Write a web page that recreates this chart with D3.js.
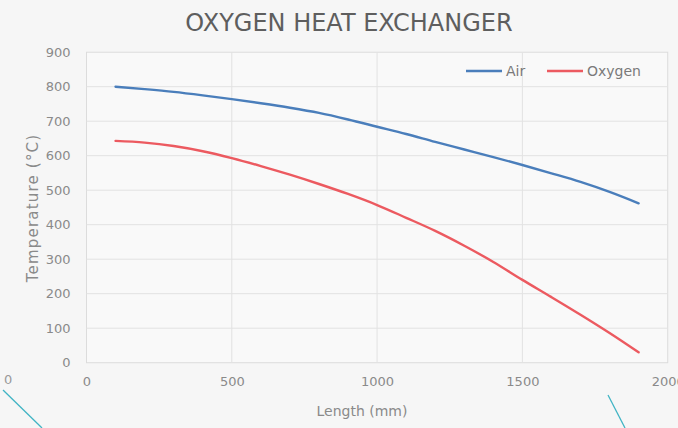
<!DOCTYPE html>
<html><head><meta charset="utf-8">
<script src="https://cdn.jsdelivr.net/npm/d3@7"></script>
<style>
html,body{margin:0;padding:0;background:#f6f6f6;}
svg{display:block;font-family:"DejaVu Sans",sans-serif;}
</style></head>
<body><svg id="c" width="678" height="428"></svg>
<script>
const lengths = [100,200,300,400,500,600,700,800,900,1000,1100,1200,1300,1400,1500,1600,1700,1800,1900];
const airTemp = [800,793,785,775,764,752,739,724,705,684,663,640,618,596,573,549,524,495,462];
const oxygenTemp = [643,638,628,613,593,570,545,518,489,457,420,382,339,292,240,190,139,86,30];
const xTicks = [0,500,1000,1500,2000];
const yTicks = [0,100,200,300,400,500,600,700,800,900];
const seriesNames = ["Air","Oxygen"];
const seriesColors = ["#4a7ebb","#ec5a60"];

const svg = d3.select("#c");
const m = {l:86.5, r:667.7, t:52.2, b:362.7};
const x = d3.scaleLinear().domain([0,2000]).range([m.l,m.r]);
const y = d3.scaleLinear().domain([0,900]).range([m.b,m.t]);

// background
svg.append("rect").attr("width",678).attr("height",428).attr("fill","#f6f6f6");
// decorative
svg.append("text").attr("x",4).attr("y",384).attr("font-size",13).attr("fill","#9a9a9a").text("0");
svg.append("line").attr("x1",3).attr("y1",390).attr("x2",42).attr("y2",428).attr("stroke","#40b4c4").attr("stroke-width",1.3);
svg.append("line").attr("x1",608).attr("y1",395).attr("x2",625).attr("y2",428).attr("stroke","#40b4c4").attr("stroke-width",1.3);

// plot area
svg.append("rect").attr("x",m.l).attr("y",m.t).attr("width",m.r-m.l).attr("height",m.b-m.t)
  .attr("fill","#f9f9f9").attr("stroke","#dcdcdc").attr("stroke-width",1);

// gridlines
svg.append("g").selectAll("line").data(yTicks.filter(d=>d>0&&d<900)).join("line")
  .attr("x1",m.l).attr("x2",m.r).attr("y1",d=>y(d)).attr("y2",d=>y(d))
  .attr("stroke","#e2e2e2").attr("stroke-width",1);
svg.append("g").selectAll("line").data(xTicks.filter(d=>d>0&&d<2000)).join("line")
  .attr("y1",m.t).attr("y2",m.b).attr("x1",d=>x(d)).attr("x2",d=>x(d))
  .attr("stroke","#e2e2e2").attr("stroke-width",1);

// axes
const ya = svg.append("g").attr("transform",`translate(${m.l},0)`)
  .call(d3.axisLeft(y).tickValues(yTicks).tickFormat(d3.format("d")).tickSize(0).tickPadding(16));
ya.select(".domain").remove();
ya.selectAll("text").attr("font-size",13).attr("fill","#8a8a8a").attr("font-family","DejaVu Sans");
const xa = svg.append("g").attr("transform",`translate(0,${m.b})`)
  .call(d3.axisBottom(x).tickValues(xTicks).tickFormat(d3.format("d")).tickSize(0).tickPadding(14));
xa.select(".domain").remove();
xa.selectAll("text").attr("font-size",13).attr("fill","#8a8a8a").attr("font-family","DejaVu Sans");

// titles
svg.append("text").attr("x",349).attr("y",31).attr("text-anchor","middle")
  .attr("font-size",24).attr("fill","#5e5e5e").attr("font-family","DejaVu Sans").text("OXYGEN HEAT EXCHANGER");
svg.append("text").attr("transform","translate(38,208) rotate(-90)").attr("text-anchor","middle")
  .attr("font-size",15).attr("letter-spacing",1.2).attr("fill","#8a8a8a").text("Temperature (°C)");
svg.append("text").attr("x",362).attr("y",416).attr("text-anchor","middle")
  .attr("font-size",14).attr("fill","#8a8a8a").text("Length (mm)");

// lines
const line = d3.line().x(d=>x(d[0])).y(d=>y(d[1])).curve(d3.curveMonotoneX);
const series = [airTemp, oxygenTemp];
series.forEach((vals,i)=>{
  svg.append("path").datum(lengths.map((l,j)=>[l,vals[j]]))
    .attr("d",line).attr("fill","none").attr("stroke",seriesColors[i]).attr("stroke-width",2.4)
    .attr("stroke-linecap","round");
});

// legend
const lg = [{x:466},{x:547}];
seriesNames.forEach((n,i)=>{
  svg.append("line").attr("x1",lg[i].x).attr("x2",lg[i].x+36).attr("y1",71).attr("y2",71)
    .attr("stroke",seriesColors[i]).attr("stroke-width",2.4);
  svg.append("text").attr("x",lg[i].x+40).attr("y",76).attr("font-size",14).attr("fill","#7a7a7a").text(n);
});
</script></body></html>
